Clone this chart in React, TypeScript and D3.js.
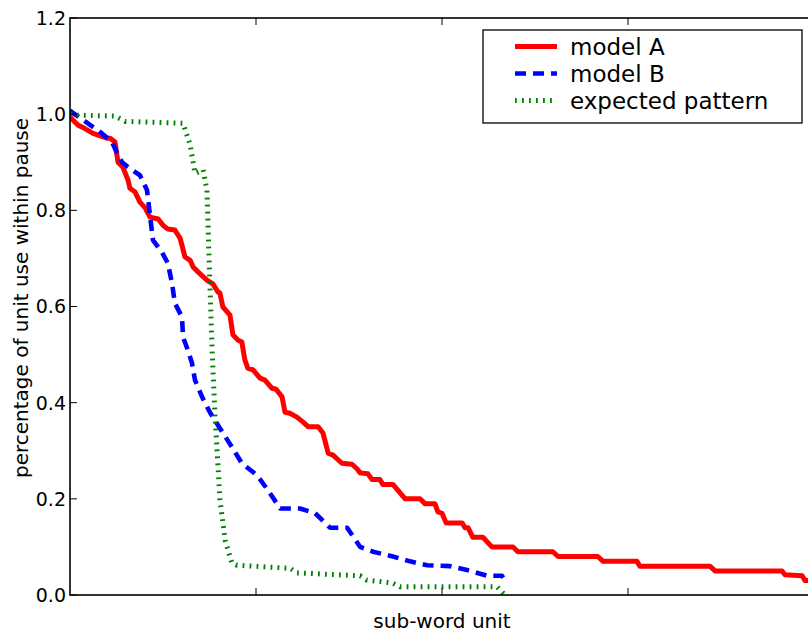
import React, { useEffect, useRef } from "react";
import * as d3 from "d3";

// sub-word unit rank (x) and percentage of unit use within pause (y)
const modelAX = [0, 0.5, 2.2, 4.0, 6.2, 9.9, 10.8, 12.1, 12.9, 14.2, 15.6, 16.1, 17.5, 18.8, 20.2, 21.5, 23.7, 25.0, 26.3, 28.2, 29.6, 30.9, 32.3, 33.1, 34.4, 36.8, 38.4, 39.8, 40.3, 41.1, 43.0, 43.8, 45.2, 46.2, 47.0, 47.8, 49.2, 51.1, 52.4, 54.3, 55.4, 57.0, 57.8, 59.1, 61.0, 62.6, 64.0, 66.7, 68.0, 69.4, 70.7, 73.1, 75.8, 77.2, 78.0, 80.1, 81.2, 83.3, 84.1, 86.8, 90.1, 94.1, 95.4, 98.1, 98.9, 100.0, 101.1, 105.4, 106.2, 107.0, 108.3, 111.0, 113.4, 119.1, 120.4, 129.8, 131.2, 141.9, 143.3, 152.4, 153.2, 172.0, 173.4, 191.4, 192.2, 196.8, 197.6, 200];
const modelAY = [0.995, 0.99, 0.977, 0.97, 0.96, 0.95, 0.95, 0.942, 0.90, 0.89, 0.863, 0.846, 0.838, 0.817, 0.805, 0.786, 0.782, 0.769, 0.761, 0.759, 0.742, 0.703, 0.696, 0.682, 0.672, 0.655, 0.647, 0.63, 0.628, 0.599, 0.582, 0.541, 0.53, 0.526, 0.489, 0.472, 0.468, 0.451, 0.447, 0.43, 0.428, 0.412, 0.38, 0.378, 0.37, 0.36, 0.35, 0.35, 0.337, 0.295, 0.291, 0.274, 0.272, 0.262, 0.254, 0.252, 0.24, 0.24, 0.23, 0.23, 0.20, 0.20, 0.19, 0.19, 0.173, 0.17, 0.15, 0.15, 0.14, 0.14, 0.12, 0.12, 0.10, 0.10, 0.09, 0.09, 0.08, 0.08, 0.07, 0.07, 0.06, 0.06, 0.05, 0.05, 0.042, 0.04, 0.03, 0.03];

const modelBX = [0, 0.5, 4.8, 8.6, 11.3, 12.9, 14.0, 15.6, 18.8, 20.7, 21.5, 22.3, 24.7, 26.3, 27.4, 28.2, 30.1, 30.4, 31.7, 32.8, 33.6, 35.5, 37.6, 40.3, 43.5, 46.2, 50.3, 53.2, 56.5, 61.8, 65.9, 69.9, 74.5, 78.0, 81.5, 86.8, 91.4, 96.0, 102.2, 106.7, 112.1, 116.1, 116.9];
const modelBY = [1.008, 1.004, 0.981, 0.96, 0.942, 0.915, 0.90, 0.89, 0.873, 0.842, 0.79, 0.738, 0.713, 0.69, 0.649, 0.607, 0.578, 0.536, 0.509, 0.482, 0.447, 0.412, 0.38, 0.347, 0.308, 0.274, 0.249, 0.218, 0.18, 0.18, 0.17, 0.14, 0.14, 0.10, 0.09, 0.08, 0.07, 0.062, 0.06, 0.052, 0.04, 0.04, 0.03];

const expectedX = [0, 1.3, 12.1, 14.8, 30.4, 32.3, 33.6, 35.8, 36.8, 37.6, 38.2, 39.0, 39.8, 40.3, 41.7, 43.5, 44.9, 57.8, 59.1, 61.0, 78.0, 79.8, 86.6, 88.7, 114.8, 116.9];
const expectedY = [1.0, 0.998, 0.996, 0.985, 0.981, 0.936, 0.877, 0.884, 0.842, 0.649, 0.509, 0.37, 0.266, 0.198, 0.114, 0.067, 0.062, 0.056, 0.056, 0.046, 0.04, 0.031, 0.025, 0.017, 0.017, 0.0];

const seriesNames = ["model A", "model B", "expected pattern"];
const yTicks = [0, 0.2, 0.4, 0.6, 0.8, 1.0, 1.2];
const xTicks = [50, 100, 150];

const W = 808;
const H = 633;
const M = { left: 70, top: 18, right: 816, bottom: 595 };

export default function App() {
  const ref = useRef<SVGSVGElement>(null);

  useEffect(() => {
    const svg = d3.select(ref.current);
    svg.selectAll("*").remove();
    const font = "DejaVu Sans, sans-serif";

    const x = d3.scaleLinear().domain([0, 200]).range([M.left, 814]);
    const y = d3.scaleLinear().domain([0, 1.2]).range([M.bottom, M.top]);

    svg.append("defs").append("clipPath").attr("id", "plotclip")
      .append("rect").attr("x", M.left).attr("y", M.top)
      .attr("width", M.right - M.left).attr("height", M.bottom - M.top);

    const styles = [
      { color: "#ff0000", width: 5, dash: null as string | null },
      { color: "#0000ff", width: 4.6, dash: "11,7" },
      { color: "#008000", width: 5, dash: "1.8,5.2" },
    ];
    const data = [
      modelAX.map((v, i) => [v, modelAY[i]] as [number, number]),
      modelBX.map((v, i) => [v, modelBY[i]] as [number, number]),
      expectedX.map((v, i) => [v, expectedY[i]] as [number, number]),
    ];
    const line = d3.line<[number, number]>().x(d => x(d[0])).y(d => y(d[1]));

    const g = svg.append("g").attr("clip-path", "url(#plotclip)");
    data.forEach((d, i) => {
      const p = g.append("path").attr("d", line(d)!)
        .attr("fill", "none").attr("stroke", styles[i].color)
        .attr("stroke-width", styles[i].width)
        .attr("stroke-linejoin", "round");
      if (styles[i].dash) p.attr("stroke-dasharray", styles[i].dash);
    });

    // frame
    svg.append("rect").attr("x", M.left).attr("y", M.top)
      .attr("width", M.right - M.left).attr("height", M.bottom - M.top)
      .attr("fill", "none").attr("stroke", "#000").attr("stroke-width", 1.6);

    // ticks
    const tl = 7;
    yTicks.forEach(t => {
      svg.append("line").attr("x1", M.left).attr("x2", M.left + tl)
        .attr("y1", y(t)).attr("y2", y(t)).attr("stroke", "#000").attr("stroke-width", 1);
      svg.append("text").attr("x", M.left - 4).attr("y", y(t))
        .attr("dy", "0.36em").attr("text-anchor", "end")
        .attr("font-family", font).attr("font-size", 19).attr("fill", "#000")
        .text(d3.format(".1f")(t));
    });
    xTicks.forEach(t => {
      svg.append("line").attr("x1", x(t)).attr("x2", x(t))
        .attr("y1", M.bottom).attr("y2", M.bottom - tl).attr("stroke", "#000").attr("stroke-width", 1);
      svg.append("line").attr("x1", x(t)).attr("x2", x(t))
        .attr("y1", M.top).attr("y2", M.top + tl).attr("stroke", "#000").attr("stroke-width", 1);
    });

    // axis labels
    svg.append("text").attr("x", 442).attr("y", 628).attr("text-anchor", "middle")
      .attr("font-family", font).attr("font-size", 20).attr("fill", "#000")
      .text("sub-word unit");
    svg.append("text").attr("transform", "translate(28,298) rotate(-90)")
      .attr("text-anchor", "middle")
      .attr("font-family", font).attr("font-size", 20).attr("fill", "#000")
      .text("percentage of unit use within pause");

    // legend
    const lg = svg.append("g");
    lg.append("rect").attr("x", 483).attr("y", 30).attr("width", 319).attr("height", 93)
      .attr("fill", "#fff").attr("stroke", "#000").attr("stroke-width", 1.3);
    const rowsY = [46.5, 73.5, 100.5];
    seriesNames.forEach((name, i) => {
      const l = lg.append("line").attr("x1", 515).attr("x2", 557)
        .attr("y1", rowsY[i]).attr("y2", rowsY[i])
        .attr("stroke", styles[i].color).attr("stroke-width", styles[i].width);
      if (styles[i].dash) l.attr("stroke-dasharray", styles[i].dash);
      lg.append("text").attr("x", 570).attr("y", rowsY[i]).attr("dy", "0.36em")
        .attr("font-family", font).attr("font-size", 23).attr("fill", "#000")
        .text(name);
    });
  }, []);

  return (
    <svg ref={ref} width={W} height={H}
      style={{ position: "absolute", left: 0, top: 0, background: "#fff" }} />
  );
}
